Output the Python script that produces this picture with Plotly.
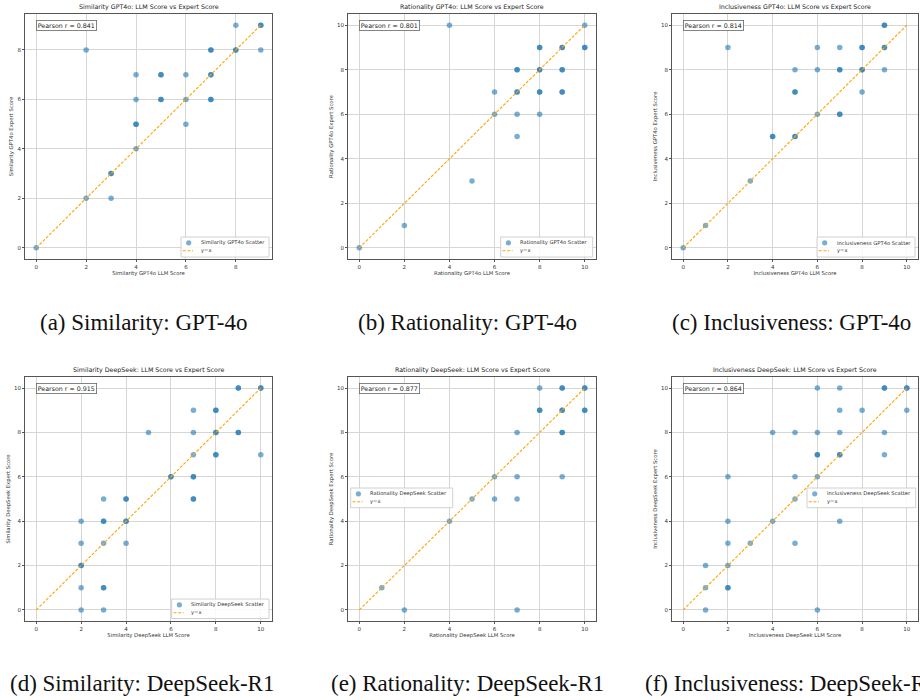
import plotly.graph_objects as go

W, H = 920, 700

# ---------------- data ----------------
sim_gpt_x = [0, 2, 2, 3, 3, 3, 4, 4, 4, 4, 4, 5, 5, 5, 5, 6, 6, 6, 7, 7, 7, 7, 7, 7, 8, 8, 8, 9, 9, 9]
sim_gpt_y = [0, 8, 2, 3, 3, 2, 7, 6, 5, 5, 4, 7, 7, 6, 6, 7, 6, 5, 8, 8, 7, 7, 6, 6, 9, 8, 8, 9, 9, 8]

rat_gpt_x = [0, 2, 4, 5, 6, 6, 7, 7, 7, 7, 7, 7, 8, 8, 8, 8, 8, 8, 8, 9, 9, 9, 9, 9, 9, 10, 10, 10]
rat_gpt_y = [0, 1, 10, 3, 7, 6, 8, 8, 7, 7, 6, 5, 9, 9, 8, 8, 7, 7, 6, 9, 9, 8, 8, 7, 7, 10, 9, 9]

inc_gpt_x = [0, 1, 2, 3, 4, 4, 5, 5, 5, 5, 5, 6, 6, 6, 7, 7, 7, 7, 7, 8, 8, 8, 8, 8, 9, 9, 9, 9, 9]
inc_gpt_y = [0, 1, 9, 3, 5, 5, 8, 7, 7, 5, 5, 9, 8, 6, 9, 8, 8, 6, 6, 9, 9, 8, 8, 7, 10, 10, 9, 9, 8]

sim_ds_x = [2, 2, 2, 2, 2, 2, 3, 3, 3, 3, 3, 3, 3, 4, 4, 4, 4, 4, 5, 6, 6, 7, 7, 7, 7, 7, 7, 7, 8, 8, 8, 8, 8, 8, 9, 9, 9, 9, 10, 10, 10]
sim_ds_y = [4, 3, 2, 2, 1, 0, 5, 4, 4, 3, 1, 1, 0, 5, 5, 4, 4, 3, 8, 6, 6, 9, 8, 7, 6, 6, 5, 5, 9, 9, 8, 8, 7, 7, 10, 10, 8, 8, 10, 10, 7]

rat_ds_x = [1, 2, 4, 5, 6, 6, 7, 7, 7, 7, 8, 8, 8, 9, 9, 9, 9, 9, 9, 9, 10, 10, 10, 10]
rat_ds_y = [1, 0, 4, 5, 6, 5, 8, 6, 5, 0, 10, 9, 9, 10, 10, 9, 9, 8, 8, 6, 10, 10, 9, 9]

inc_ds_x = [1, 1, 1, 2, 2, 2, 2, 2, 2, 3, 4, 4, 5, 5, 5, 5, 6, 6, 6, 6, 6, 6, 7, 7, 7, 7, 7, 7, 8, 9, 9, 9, 9, 10, 10, 10]
inc_ds_y = [2, 1, 0, 6, 4, 3, 2, 1, 1, 3, 8, 4, 8, 6, 5, 3, 10, 8, 7, 7, 6, 0, 10, 9, 8, 7, 7, 4, 9, 10, 10, 8, 7, 10, 10, 9]

names = ["Similarity GPT4o", "Rationality GPT4o", "Inclusiveness GPT4o",
         "Similarity DeepSeek", "Rationality DeepSeek", "Inclusiveness DeepSeek"]
pearson = ["0.841", "0.801", "0.814", "0.915", "0.877", "0.864"]
captions = ["(a) Similarity: GPT-4o", "(b) Rationality: GPT-4o", "(c) Inclusiveness: GPT-4o",
            "(d) Similarity: DeepSeek-R1", "(e) Rationality: DeepSeek-R1", "(f) Inclusiveness: DeepSeek-R1"]
xs = [sim_gpt_x, rat_gpt_x, inc_gpt_x, sim_ds_x, rat_ds_x, inc_ds_x]
ys = [sim_gpt_y, rat_gpt_y, inc_gpt_y, sim_ds_y, rat_ds_y, inc_ds_y]
line_max = [9, 10, 10, 10, 10, 10]

# ---------------- layout geometry (pixels) ----------------
axes_px = [  # left, right, top, bottom
    (25, 272, 14, 259),
    (348, 596, 14, 259),
    (672, 918, 14, 259),
    (25, 272, 377, 621),
    (348, 596, 377, 621),
    (672, 918, 377, 621),
]
legend_box_px = [  # left, top, right, bottom
    (181, 237, 269, 257),
    (500.7, 237, 592.7, 257),
    (817, 237, 915, 257),
    (171.7, 599, 269, 618.5),
    (350.7, 488, 452.7, 507.7),
    (807, 488, 915.7, 507.7),
]
caption_px = [(143, 322), (468, 322), (791, 322), (142, 683), (467, 683), (791, 683)]

BLUE = "rgba(31,119,180,0.6)"
ORANGE = "#FFA500"
TICKF = dict(family="DejaVu Sans", size=5.5, color="#333")
LABF = dict(family="DejaVu Sans", size=5.3, color="#333")


def px(x):
    return x / W


def py(y):
    return 1 - y / H


fig = go.Figure()
layout = dict(
    width=W, height=H, margin=dict(l=0, r=0, t=0, b=0),
    paper_bgcolor="white", plot_bgcolor="white", showlegend=False,
    annotations=[], shapes=[],
)

for i in range(6):
    k = "" if i == 0 else str(i + 1)
    xa, ya = "x" + k, "y" + k
    fig.add_trace(go.Scatter(
        x=xs[i], y=ys[i], mode="markers", xaxis=xa, yaxis=ya,
        name=names[i] + " Scatter",
        marker=dict(color=BLUE, size=5.5, line=dict(width=0)),
    ))
    fig.add_trace(go.Scatter(
        x=[0, line_max[i]], y=[0, line_max[i]], mode="lines", xaxis=xa, yaxis=ya,
        name="y=x",
        line=dict(color=ORANGE, width=1.1, dash="3px,1.6px"),
    ))
    l, r, t, b = axes_px[i]
    dx = max(xs[i] + [line_max[i]])
    dy = max(ys[i] + [line_max[i]])
    axcommon = dict(
        showline=True, linecolor="#555", linewidth=1, mirror=True,
        showgrid=True, gridcolor="#d6d6d6", gridwidth=1, zeroline=False,
        ticks="outside", ticklen=2, tickcolor="#555", tickfont=TICKF,
        dtick=2, tick0=0,
    )
    layout["xaxis" + k] = dict(
        axcommon, domain=[px(l), px(r)], anchor=ya,
        range=[-0.05 * dx, dx * 1.05],
        title=dict(text=names[i] + " LLM Score", font=LABF, standoff=2),
    )
    layout["yaxis" + k] = dict(
        axcommon, domain=[py(b), py(t)], anchor=xa,
        range=[-0.05 * dy, dy * 1.05],
        title=dict(text=names[i] + " Expert Score", font=LABF, standoff=3),
    )
    # subplot title
    layout["annotations"].append(dict(
        text=names[i] + ": LLM Score vs Expert Score", xref=xa + " domain", yref=ya + " domain",
        x=0.5, y=1, xanchor="center", yanchor="bottom", yshift=1, showarrow=False,
        font=dict(family="DejaVu Sans", size=6.3, color="#222"),
    ))
    # pearson box
    layout["annotations"].append(dict(
        text="Pearson r = " + pearson[i], xref=xa + " domain", yref=ya + " domain",
        x=0.045, y=0.976, xanchor="left", yanchor="top", showarrow=False,
        font=dict(family="DejaVu Sans", size=6.3, color="#222"),
        bgcolor="white", bordercolor="#666", borderwidth=0.8, borderpad=1,
    ))
    # legend (drawn)
    L, T, R, B = legend_box_px[i]
    layout["shapes"].append(dict(
        type="rect", xref="paper", yref="paper", x0=px(L), x1=px(R), y0=py(B), y1=py(T),
        line=dict(color="#d0d0d0", width=1), fillcolor="rgba(255,255,255,0.85)", layer="above",
    ))
    my = T + 5.8
    ly = T + 13.8
    mx = L + 7.7
    layout["shapes"].append(dict(
        type="circle", xref="paper", yref="paper", x0=px(mx - 2.6), x1=px(mx + 2.6),
        y0=py(my + 2.6), y1=py(my - 2.6), line=dict(width=0), fillcolor=BLUE, layer="above",
    ))
    layout["shapes"].append(dict(
        type="line", xref="paper", yref="paper", x0=px(L + 1.8), x1=px(L + 12), y0=py(ly), y1=py(ly),
        line=dict(color=ORANGE, width=1.1, dash="3px,1.6px"), layer="above",
    ))
    for txt, yy in ((names[i] + " Scatter", my), ("y=x", ly)):
        layout["annotations"].append(dict(
            text=txt, xref="paper", yref="paper", x=px(L + 17.5), y=py(yy),
            xanchor="left", yanchor="middle", showarrow=False,
            font=dict(family="DejaVu Sans", size=5.2, color="#333"),
        ))
    cx, cy = caption_px[i]
    layout["annotations"].append(dict(
        text=captions[i], xref="paper", yref="paper", x=px(cx), y=py(cy),
        xanchor="center", yanchor="middle", showarrow=False,
        font=dict(family="Liberation Serif", size=23, color="#111"),
    ))

fig.update_layout(**layout)
fig.write_html("out.html", config={"displayModeBar": False},
               post_script="document.body.style.margin='0';document.body.style.overflow='hidden';")
